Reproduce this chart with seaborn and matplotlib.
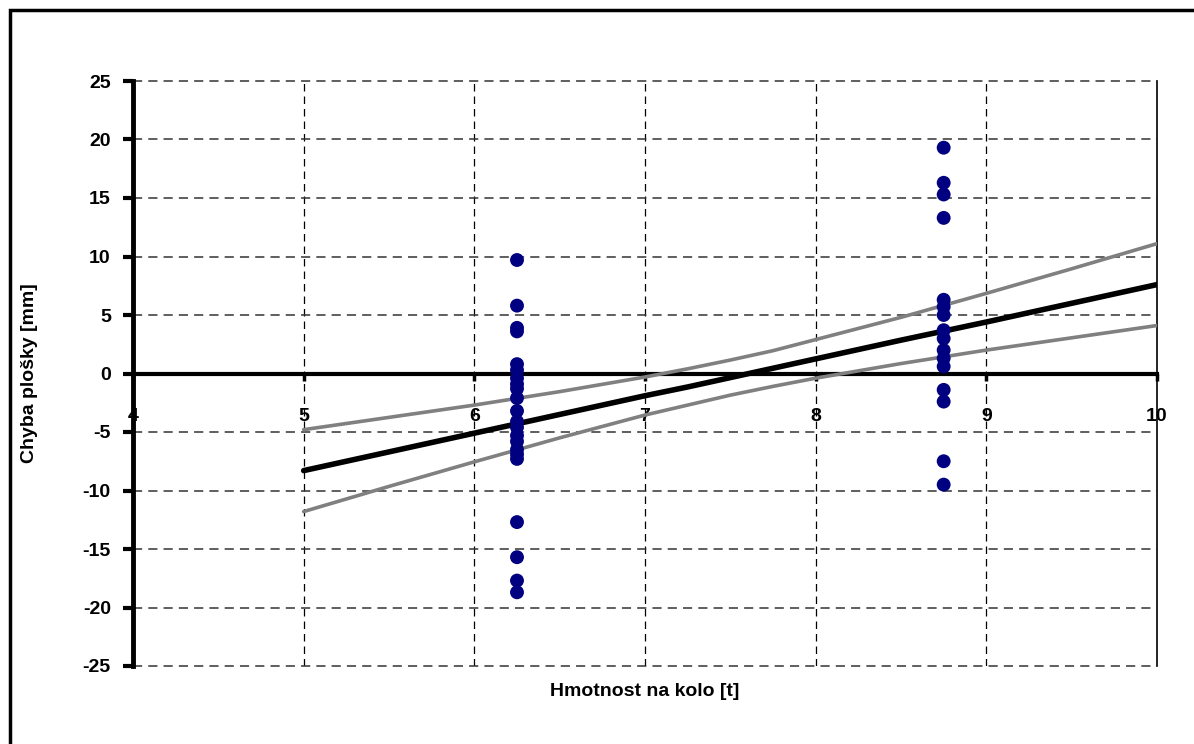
import matplotlib
matplotlib.use("Agg")
import matplotlib.pyplot as plt
import numpy as np
import seaborn as sns

# --- data ---
x_light = [6.25] * 22
y_light = [9.7, 5.8, 3.9, 3.6, 0.8, 0.3, -0.4, -0.9, -1.3, -2.1, -3.2,
           -4.1, -4.6, -5.3, -5.8, -6.5, -6.9, -7.3, -12.7, -15.7, -17.7, -18.7]

x_heavy = [8.75] * 16
y_heavy = [19.3, 16.3, 15.3, 13.3, 6.3, 5.7, 5.0, 3.7, 3.0, 2.0, 1.3,
           0.6, -1.4, -2.4, -7.5, -9.5]

line_x = [5, 5.5, 6, 6.5, 7, 7.25, 7.5, 7.75, 8, 8.5, 9, 9.5, 10]
mean_y = [-8.3, -6.7, -5.1, -3.5, -1.9, -1.15, -0.35, 0.45, 1.25, 2.85, 4.4, 6.0, 7.6]
upper_y = [-4.8, -3.75, -2.7, -1.55, -0.3, 0.4, 1.15, 1.95, 2.9, 4.8, 6.85, 8.95, 11.1]
lower_y = [-11.8, -9.65, -7.55, -5.5, -3.55, -2.7, -1.85, -1.1, -0.4, 0.85, 2.0, 3.05, 4.1]

x_ticks = [4, 5, 6, 7, 8, 9, 10]
y_ticks = [25, 20, 15, 10, 5, 0, -5, -10, -15, -20, -25]

sns.set_style("white")
plt.rcParams["font.family"] = ["Liberation Sans", "DejaVu Sans"]
plt.rcParams["font.weight"] = "bold"
plt.rcParams["axes.unicode_minus"] = False
plt.rcParams["text.color"] = "black"
plt.rcParams["xtick.color"] = "black"
plt.rcParams["ytick.color"] = "black"

fig = plt.figure(figsize=(11.94, 7.44), dpi=100)
ax = fig.add_axes([133 / 1194, 1 - 666 / 744, 1024 / 1194, 585 / 744])
# x axis crosses at y = 0 (set first: moving a spine resets its ticks)
ax.spines["bottom"].set_position(("data", 0))

# grid (dashed), drawn by hand so the 0 line stays the solid axis
for xv in x_ticks[1:-1]:
    ax.axvline(xv, color="black", lw=0.9, ls=(0, (6, 4)), zorder=1)
for yv in y_ticks:
    if yv != 0:
        ax.axhline(yv, color="#333333", lw=1.1, ls=(0, (6, 4)), zorder=1,
                   clip_on=False)

sns.lineplot(x=line_x, y=upper_y, color="#808080", lw=2.6, ax=ax, zorder=3)
sns.lineplot(x=line_x, y=lower_y, color="#808080", lw=2.6, ax=ax, zorder=3)
sns.lineplot(x=line_x, y=mean_y, color="black", lw=4, ax=ax, zorder=4,
             solid_capstyle="round")

pts_x = x_light + x_heavy
pts_y = y_light + y_heavy
sns.scatterplot(x=pts_x, y=pts_y, color="#000080", s=100, edgecolor="none",
                ax=ax, zorder=5)

ax.set_xlim(4, 10)
ax.set_ylim(-25, 25)
ax.set_xticks(x_ticks)
ax.set_yticks(y_ticks)
ax.set_xticklabels([str(v) for v in x_ticks], fontsize=14, fontweight="bold",
                   color="black")
ax.set_yticklabels([str(v) for v in y_ticks], fontsize=14, fontweight="bold",
                   color="black")
ax.tick_params(axis="both", direction="out")
ax.tick_params(axis="y", length=7, width=3, pad=9, left=True)
ax.tick_params(axis="x", length=5, width=2.5, pad=20, bottom=True)

ax.spines["bottom"].set_linewidth(3)
ax.spines["bottom"].set_color("black")
ax.spines["left"].set_linewidth(3.5)
ax.spines["left"].set_color("black")
ax.spines["right"].set_linewidth(1.2)
ax.spines["right"].set_color("black")
ax.spines["top"].set_visible(False)
ax.spines["bottom"].set_zorder(2)

fig.text(645 / 1194, 1 - 692 / 744, "Hmotnost na kolo [t]", ha="center",
         va="center", fontsize=14, fontweight="bold")
fig.text(30 / 1194, 1 - 373.5 / 744, "Chyba plošky [mm]", ha="center",
         va="center", rotation=90, fontsize=14, fontweight="bold")

# outer frame of the chart area
frame = plt.Rectangle((10 / 1194, -0.05), 1.2, 1 - 10 / 744 + 0.05,
                      transform=fig.transFigure, fill=False, lw=2.5,
                      edgecolor="black")
fig.patches.append(frame)

fig.savefig("out.png", dpi=100)
